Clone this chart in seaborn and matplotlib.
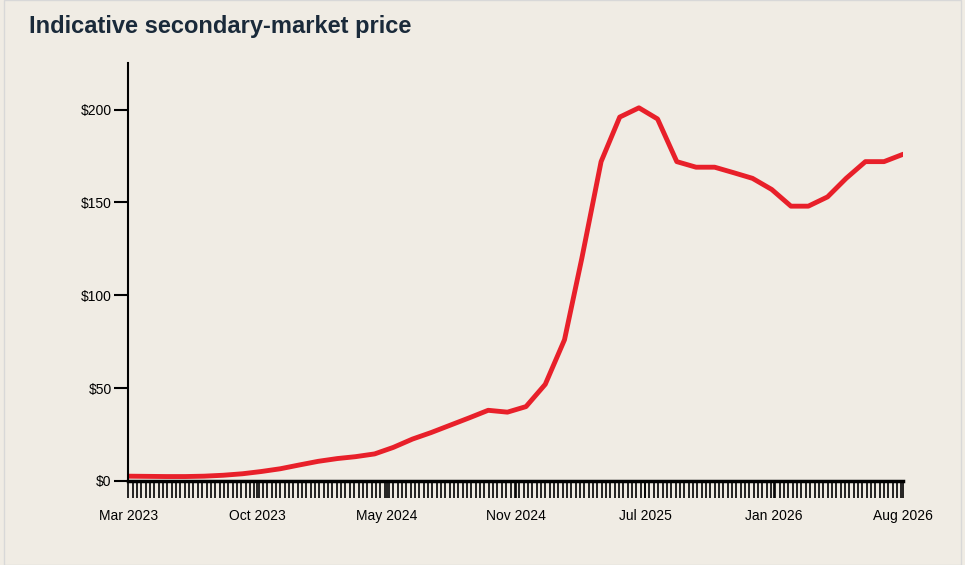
import pandas as pd
import matplotlib.pyplot as plt
import seaborn as sns

# monthly indicative price, Mar 2023 .. Aug 2026
months = pd.date_range("2023-03-01", "2026-08-01", freq="MS")
prices = [2.5, 2.4, 2.3, 2.3, 2.5, 3, 3.8, 5, 6.5, 8.5, 10.5, 12, 13, 14.5, 18,
          22.5, 26, 30, 34, 38, 37, 40, 52, 76, 120, 172, 196, 201, 195, 172,
          169, 169, 166, 163, 157, 148, 148, 153, 163, 172, 172, 176]
x_labels = ["Mar 2023", "Oct 2023", "May 2024", "Nov 2024", "Jul 2025", "Jan 2026", "Aug 2026"]
y_ticks = [0, 50, 100, 150, 200]

df = pd.DataFrame({"date": months, "price": prices})

sns.set_style("white")
plt.rcParams['font.family'] = ['Liberation Sans', 'DejaVu Sans']
bg = "#f0ece4"
fig = plt.figure(figsize=(9.65, 5.65), dpi=100, facecolor=bg)
ax = fig.add_axes([0.133, 0.149, 0.803, 0.739], facecolor=bg)

sns.lineplot(data=df, x="date", y="price", ax=ax, color="#e8202a", linewidth=3.5,
             solid_joinstyle="round", solid_capstyle="round")

start, end = months[0], months[-1]
ax.set_xlim(start, end)
ax.set_ylim(0, 225)

# weekly minor ticks, evenly spaced labels
weeks = pd.date_range(start, end, freq="7D")
ax.set_xticks(weeks, minor=True)
label_pos = [start + (end - start) * k / 6 for k in range(7)]
ax.set_xticks(label_pos)
ax.set_xticklabels(x_labels, fontsize=10, color="black")
ax.tick_params(axis="x", which="both", bottom=True, length=12, width=1.2,
               color="black", pad=8)
ax.set_yticks(y_ticks)
ax.set_yticklabels([f"${v}" for v in y_ticks], fontsize=10, color="black")
ax.tick_params(axis="y", left=True, length=10, width=1.5, color="black", pad=2)

for s in ["top", "right"]:
    ax.spines[s].set_visible(False)
ax.spines["left"].set_linewidth(1.5)
ax.spines["bottom"].set_linewidth(2.5)
ax.spines["left"].set_color("black")
ax.spines["bottom"].set_color("black")
ax.set_xlabel("")
ax.set_ylabel("")

fig.text(0.03, 0.953, "Indicative secondary-market price", fontsize=17,
         fontweight="bold", color="#1a2a3a", va="center")
fig.patches.append(plt.Rectangle((0.004, 0.0), 0.992, 1.0, transform=fig.transFigure,
                                 fill=False, edgecolor="#d8d8d8", linewidth=1))

fig.savefig("out.png", dpi=100, facecolor=bg)
